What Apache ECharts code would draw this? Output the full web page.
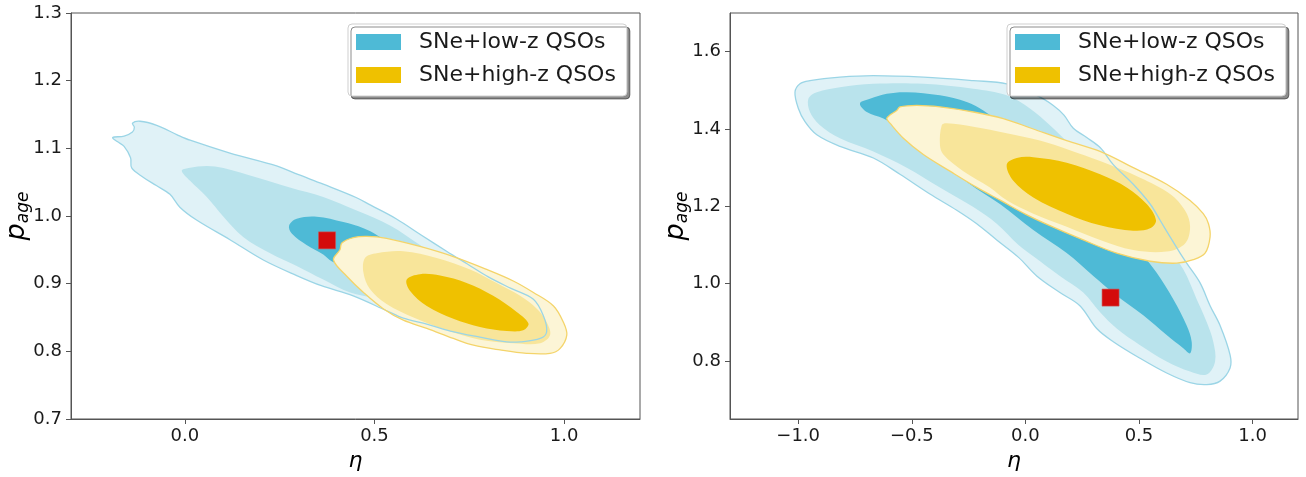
<!DOCTYPE html>
<html><head><meta charset="utf-8">
<script src="https://cdn.jsdelivr.net/npm/echarts@6.0.0/dist/echarts.min.js"></script>
<style>html,body{margin:0;padding:0;background:#fff}#c{width:1306px;height:477px}</style>
</head><body><div id="c"></div><script>
// ---------- data (contour vertices in data coordinates: [eta, p_age]) ----------
const seriesNames = ['SNe+low-z QSOs', 'SNe+high-z QSOs'];
const bestFit = [[0.375, 0.964]];

// Left panel: blue (low-z) 3 levels, yellow (high-z) 3 levels
const leftBlueOuter = [[-0.190,1.116],[-0.160,1.118],[-0.138,1.124],[-0.133,1.131],[-0.138,1.137],[-0.118,1.140],[-0.074,1.134],[-0.020,1.120],[0.014,1.112],[0.119,1.093],[0.242,1.074],[0.300,1.061],[0.365,1.047],[0.453,1.027],[0.490,1.016],[0.557,0.996],[0.623,0.972],[0.690,0.948],[0.745,0.929],[0.800,0.910],[0.860,0.893],[0.919,0.877],[0.945,0.853],[0.954,0.829],[0.937,0.819],[0.884,0.814],[0.849,0.814],[0.778,0.821],[0.700,0.830],[0.640,0.840],[0.576,0.849],[0.532,0.860],[0.444,0.882],[0.360,0.897],[0.295,0.912],[0.207,0.935],[0.119,0.965],[0.031,0.994],[-0.013,1.013],[-0.039,1.032],[-0.075,1.045],[-0.109,1.057],[-0.140,1.071],[-0.143,1.086],[-0.160,1.103],[-0.178,1.110]];
const leftBlueMid = [[-0.008,1.067],[0.010,1.071],[0.058,1.074],[0.102,1.071],[0.190,1.057],[0.277,1.042],[0.365,1.028],[0.453,1.008],[0.541,0.986],[0.620,0.957],[0.700,0.925],[0.780,0.890],[0.840,0.862],[0.870,0.840],[0.850,0.826],[0.780,0.832],[0.680,0.848],[0.560,0.872],[0.436,0.887],[0.365,0.906],[0.295,0.926],[0.225,0.945],[0.154,0.969],[0.102,0.999],[0.058,1.028],[0.014,1.052]];
const leftBlueInner = [[0.275,0.986],[0.295,0.996],[0.348,0.999],[0.418,0.991],[0.471,0.982],[0.506,0.972],[0.540,0.955],[0.520,0.935],[0.450,0.918],[0.387,0.933],[0.365,0.943],[0.321,0.957],[0.282,0.974]];
const leftYellowOuter = [[0.392,0.935],[0.409,0.950],[0.414,0.960],[0.444,0.968],[0.480,0.970],[0.532,0.967],[0.620,0.955],[0.708,0.940],[0.796,0.921],[0.866,0.904],[0.919,0.887],[0.972,0.867],[0.998,0.843],[1.007,0.824],[0.989,0.804],[0.963,0.797],[0.901,0.797],[0.831,0.802],[0.761,0.809],[0.708,0.819],[0.638,0.834],[0.576,0.846],[0.523,0.863],[0.471,0.887],[0.427,0.911]];
const leftYellowMid = [[0.475,0.938],[0.506,0.945],[0.576,0.948],[0.664,0.938],[0.752,0.921],[0.822,0.901],[0.884,0.882],[0.928,0.863],[0.954,0.843],[0.963,0.824],[0.937,0.812],[0.866,0.812],[0.778,0.817],[0.691,0.831],[0.603,0.850],[0.532,0.870],[0.488,0.892],[0.471,0.916]];
const leftYellowInner = [[0.585,0.906],[0.620,0.914],[0.673,0.912],[0.743,0.901],[0.813,0.882],[0.875,0.858],[0.906,0.841],[0.892,0.831],[0.849,0.830],[0.778,0.836],[0.708,0.848],[0.638,0.867],[0.594,0.889]];

// Right panel
const rightBlueOuter = [[-1.014,1.495],[-0.992,1.517],[-0.948,1.525],[-0.816,1.534],[-0.669,1.538],[-0.449,1.534],[-0.229,1.525],[-0.082,1.517],[0.050,1.487],[0.123,1.461],[0.170,1.436],[0.211,1.402],[0.270,1.378],[0.329,1.352],[0.387,1.308],[0.475,1.257],[0.549,1.206],[0.593,1.164],[0.637,1.121],[0.681,1.079],[0.710,1.053],[0.769,1.002],[0.813,0.943],[0.857,0.892],[0.901,0.816],[0.901,0.782],[0.857,0.748],[0.798,0.739],[0.725,0.744],[0.622,0.769],[0.505,0.807],[0.387,0.850],[0.314,0.884],[0.240,0.943],[0.152,0.977],[0.050,1.020],[-0.030,1.068],[-0.126,1.113],[-0.214,1.155],[-0.302,1.190],[-0.420,1.232],[-0.552,1.283],[-0.669,1.325],[-0.816,1.355],[-0.918,1.385],[-0.970,1.419],[-0.999,1.453]];
const rightBlueMid = [[-0.955,1.478],[-0.918,1.495],[-0.816,1.508],[-0.669,1.517],[-0.449,1.517],[-0.229,1.504],[-0.082,1.487],[0.020,1.453],[0.108,1.410],[0.182,1.368],[0.280,1.310],[0.360,1.270],[0.440,1.220],[0.530,1.160],[0.622,1.096],[0.695,1.037],[0.754,0.960],[0.798,0.901],[0.827,0.850],[0.835,0.799],[0.798,0.765],[0.725,0.773],[0.622,0.799],[0.505,0.841],[0.402,0.884],[0.329,0.926],[0.255,0.977],[0.152,1.020],[0.035,1.071],[-0.030,1.100],[-0.126,1.155],[-0.229,1.198],[-0.376,1.249],[-0.522,1.300],[-0.669,1.342],[-0.816,1.376],[-0.904,1.410],[-0.948,1.444]];
const rightBlueInner = [[-0.728,1.466],[-0.684,1.478],[-0.610,1.491],[-0.522,1.495],[-0.376,1.487],[-0.258,1.470],[-0.185,1.448],[-0.050,1.390],[0.100,1.320],[0.250,1.240],[0.400,1.160],[0.534,1.062],[0.578,1.028],[0.651,0.960],[0.710,0.892],[0.732,0.850],[0.725,0.820],[0.695,0.833],[0.622,0.867],[0.519,0.918],[0.402,0.969],[0.299,1.020],[0.182,1.079],[0.035,1.139],[-0.112,1.206],[-0.250,1.260],[-0.400,1.330],[-0.520,1.390],[-0.625,1.427],[-0.698,1.444]];
const rightYellowOuter = [[-0.610,1.427],[-0.596,1.436],[-0.566,1.448],[-0.552,1.457],[-0.478,1.461],[-0.376,1.457],[-0.229,1.444],[-0.097,1.427],[0.035,1.400],[0.182,1.370],[0.329,1.342],[0.475,1.300],[0.622,1.257],[0.725,1.215],[0.783,1.181],[0.806,1.155],[0.813,1.121],[0.791,1.079],[0.739,1.062],[0.666,1.053],[0.549,1.058],[0.402,1.079],[0.255,1.113],[0.108,1.150],[0.000,1.180],[-0.105,1.214],[-0.214,1.249],[-0.332,1.291],[-0.449,1.334],[-0.537,1.376],[-0.596,1.415]];
const rightYellowMid = [[-0.368,1.410],[-0.346,1.415],[-0.229,1.406],[-0.082,1.389],[0.064,1.370],[0.196,1.345],[0.329,1.317],[0.505,1.274],[0.637,1.232],[0.703,1.189],[0.725,1.147],[0.703,1.104],[0.622,1.083],[0.475,1.087],[0.329,1.113],[0.182,1.147],[0.035,1.181],[-0.080,1.215],[-0.156,1.249],[-0.273,1.291],[-0.361,1.334],[-0.376,1.359]];
const rightYellowInner = [[-0.082,1.308],[-0.038,1.325],[0.035,1.327],[0.182,1.313],[0.329,1.283],[0.446,1.249],[0.534,1.206],[0.575,1.164],[0.549,1.143],[0.475,1.137],[0.329,1.151],[0.182,1.181],[0.035,1.223],[-0.053,1.266]];

// tick values
const leftXTicks = [0.0, 0.5, 1.0];
const leftYTicks = [0.7, 0.8, 0.9, 1.0, 1.1, 1.2, 1.3];
const rightXTicks = [-1.0, -0.5, 0.0, 0.5, 1.0];
const rightYTicks = [0.8, 1.0, 1.2, 1.4, 1.6];

// ---------- styling ----------
const FONT = 'DejaVu Sans';
const C = {
  b1: '#E0F2F7', b2: '#B9E3EC', b3: '#4EBAD6', bLine: '#9BD5E6',
  y1: '#FCF5D6', y2: '#F8E59A', y3: '#EFC100', yLine: '#F4D46A',
  red: '#D40B0B', axis: '#555', text: '#1a1a1a'
};
const fmt = v => (v < 0 ? '\u2212' + Math.abs(v).toFixed(1) : v.toFixed(1));

function poly(name, pts, fill, stroke, lw, gi) {
  return {
    type: 'custom', name: name, xAxisIndex: gi, yAxisIndex: gi,
    data: pts, silent: true, animation: false,
    itemStyle: { color: fill || stroke },
    renderItem: function (params, api) {
      if (params.dataIndex !== 0) return null;
      const points = pts.map(p => api.coord(p));
      return {
        type: 'polygon', shape: { points: points, smooth: 0.35 },
        style: { fill: fill || 'none', stroke: stroke || null, lineWidth: lw || 0 }
      };
    }
  };
}

function xAx(gi, min, max, ticks) {
  return {
    gridIndex: gi, type: 'value', min: min, max: max,
    name: 'η', nameLocation: 'middle', nameGap: 31, nameMoveOverlap: false,
    nameTextStyle: { fontSize: 22, fontStyle: 'italic', fontFamily: FONT, color: '#000' },
    axisLine: { show: true, onZero: false, lineStyle: { color: C.axis, width: 1 } },
    axisTick: { show: true, inside: false, length: 5, customValues: ticks, lineStyle: { color: C.axis } },
    axisLabel: { customValues: ticks, formatter: fmt, fontSize: 18, color: C.text, fontFamily: FONT, margin: 8 },
    splitLine: { show: false }
  };
}
function yAx(gi, min, max, ticks) {
  return {
    gridIndex: gi, type: 'value', min: min, max: max,
    name: '{p|p}{s|age}', nameLocation: 'middle', nameRotate: 90, nameGap: 39, nameMoveOverlap: false,
    nameTextStyle: {
      color: '#000',
      rich: {
        p: { fontSize: 27, fontStyle: 'italic', fontFamily: FONT, lineHeight: 30, color: '#000' },
        s: { fontSize: 17, fontStyle: 'italic', fontFamily: FONT, lineHeight: 17, verticalAlign: 'bottom', color: '#000' }
      }
    },
    axisLine: { show: true, onZero: false, lineStyle: { color: C.axis, width: 1 } },
    axisTick: { show: true, inside: false, length: 5, customValues: ticks, lineStyle: { color: C.axis } },
    axisLabel: { customValues: ticks, formatter: fmt, fontSize: 18, color: C.text, fontFamily: FONT, margin: 9 },
    splitLine: { show: false }
  };
}
function legend(left) {
  return {
    orient: 'vertical', left: left, top: 24, icon: 'rect',
    itemWidth: 45, itemHeight: 16, itemGap: 11,
    padding: [7, 11, 10, 8],
    backgroundColor: '#fff', borderColor: '#cfcfcf', borderWidth: 1, borderRadius: 4,
    shadowColor: 'rgba(0,0,0,0.45)', shadowBlur: 0, shadowOffsetX: 3, shadowOffsetY: 3,
    selectedMode: false,
    textStyle: { fontSize: 22, fontFamily: FONT, color: C.text, lineHeight: 22, padding: [0, 0, 0, 13] },
    data: [
      { name: seriesNames[0], itemStyle: { color: C.b3 } },
      { name: seriesNames[1], itemStyle: { color: C.y3 } }
    ]
  };
}

function panelSeries(gi, bo, bm, bi, yo, ym, yi) {
  return [
    poly('b1-' + gi, bo, C.b1, null, 0, gi),
    poly('b2-' + gi, bm, C.b2, null, 0, gi),
    poly(seriesNames[0], bi, C.b3, null, 0, gi),
    poly('y1-' + gi, yo, C.y1, null, 0, gi),
    poly('y2-' + gi, ym, C.y2, null, 0, gi),
    poly(seriesNames[1], yi, C.y3, null, 0, gi),
    poly('bl-' + gi, bo, null, C.bLine, 1.3, gi),
    poly('yl-' + gi, yo, null, C.yLine, 1.3, gi),
    {
      type: 'scatter', name: 'best-' + gi, xAxisIndex: gi, yAxisIndex: gi, data: bestFit,
      symbol: 'rect', symbolSize: 17, silent: true, animation: false, z: 5,
      itemStyle: { color: C.red, borderColor: '#c55', borderWidth: 0.6, opacity: 1 }
    }
  ];
}

const chart = echarts.init(document.getElementById('c'), null, { renderer: 'canvas' });
chart.setOption({
  animation: false,
  backgroundColor: '#fff',
  grid: [
    { left: 71, top: 13, width: 569, height: 412, show: true, borderColor: C.axis, borderWidth: 1, backgroundColor: 'transparent' },
    { left: 730, top: 13, width: 568, height: 412, show: true, borderColor: C.axis, borderWidth: 1, backgroundColor: 'transparent' }
  ],
  xAxis: [xAx(0, -0.3, 1.2, leftXTicks), xAx(1, -1.3, 1.2, rightXTicks)],
  yAxis: [yAx(0, 0.7, 1.3, leftYTicks), yAx(1, 0.65, 1.7, rightYTicks)],
  legend: [legend(348), legend(1007)],
  series: [].concat(
    panelSeries(0, leftBlueOuter, leftBlueMid, leftBlueInner, leftYellowOuter, leftYellowMid, leftYellowInner),
    panelSeries(1, rightBlueOuter, rightBlueMid, rightBlueInner, rightYellowOuter, rightYellowMid, rightYellowInner)
  )
});
</script></body></html>
